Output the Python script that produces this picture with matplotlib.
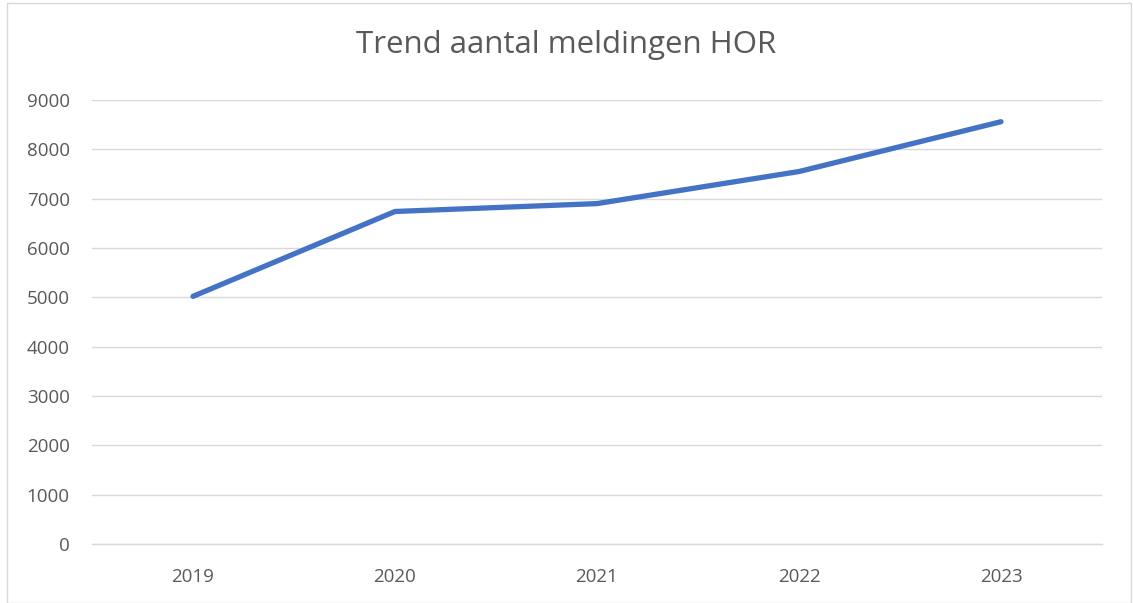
import matplotlib
matplotlib.use("Agg")
import matplotlib.pyplot as plt
from matplotlib.patches import Rectangle

years = ["2019", "2020", "2021", "2022", "2023"]
meldingen = [5020, 6740, 6900, 7550, 8560]
y_ticks = [0, 1000, 2000, 3000, 4000, 5000, 6000, 7000, 8000, 9000]

TEXT = "#595959"
GRID = "#D9D9D9"
LINE = "#4472C4"

plt.rcParams["font.family"] = ["Open Sans", "DejaVu Sans"]

W, H = 1133, 603
fig = plt.figure(figsize=(W / 100, H / 100), dpi=100)
ax = fig.add_axes([92 / W, 1 - 544 / H, (1102 - 92) / W, (544 - 100) / H])

x = list(range(len(years)))
ax.plot(x, meldingen, color=LINE, linewidth=3.8, solid_capstyle="round",
        solid_joinstyle="round", zorder=3)

ax.set_xlim(-0.5, len(years) - 0.5)
ax.set_ylim(0, 9000)
ax.set_xticks(x)
ax.set_xticklabels(years)
ax.set_yticks(y_ticks)
ax.set_yticklabels([str(v) for v in y_ticks])
ax.tick_params(axis="both", length=0, colors=TEXT, labelsize=13.5)
ax.tick_params(axis="y", pad=16)
ax.tick_params(axis="x", pad=17)

ax.grid(axis="y", color=GRID, linewidth=1)
ax.set_axisbelow(True)
for side in ["top", "right", "left"]:
    ax.spines[side].set_visible(False)
ax.spines["bottom"].set_color(GRID)
ax.spines["bottom"].set_linewidth(1)

fig.text(0.5, 1 - 45 / H, "Trend aantal meldingen HOR", ha="center", va="center",
         color=TEXT, fontsize=22.5)

fig.patches.append(Rectangle((7 / W, 0), (1131 - 7) / W, (600 - 0) / H,
                             transform=fig.transFigure, fill=False,
                             edgecolor=GRID, linewidth=1))

fig.savefig("out.png", dpi=100, facecolor="white")
